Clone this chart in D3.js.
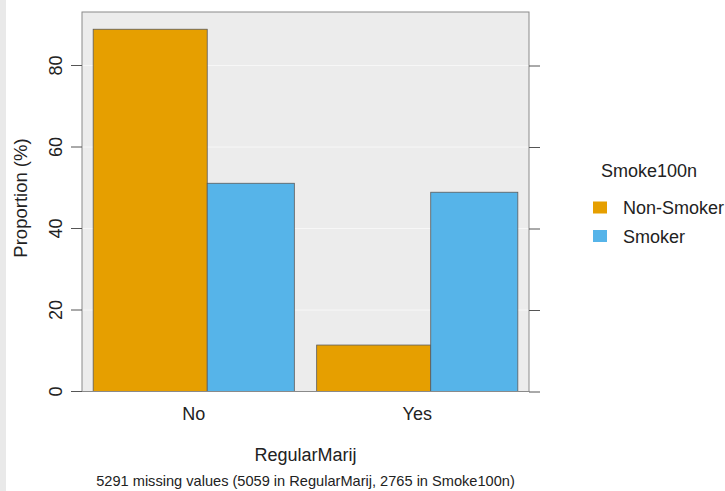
<!DOCTYPE html>
<html><head><meta charset="utf-8">
<script src="https://cdn.jsdelivr.net/npm/d3@7"></script>
<style>body{margin:0;background:#fff;}svg{display:block;font-family:"Liberation Sans",Arial,sans-serif;}</style>
</head><body>
<script>
const categories = ["No", "Yes"];
const seriesNames = ["Non-Smoker", "Smoker"];
const nonSmoker = [88.9, 11.4];
const smoker = [51.1, 48.9];
// bar widths are proportional to each Smoke100n group's share of respondents (%)
const seriesShare = [56.7, 43.3];
const yTicks = [0, 20, 40, 60, 80];
const colors = ["#E69F00", "#56B4E9"];

const W = 725, H = 491;
const svg = d3.select("body").append("svg").attr("width", W).attr("height", H);
svg.append("rect").attr("x",0).attr("y",0).attr("width",6).attr("height",H).attr("fill","#e9e9e9");

const L = 82, R = 529, T = 12, B = 391.5;
const y = d3.scaleLinear().domain([0, 80]).range([B, 65.5]);
const x0 = d3.scaleBand().domain(categories).range([L, R]).paddingInner(0.1).paddingOuter(0.05);
const x1 = d3.scaleLinear().domain([0, d3.sum(seriesShare)]).range([0, x0.bandwidth()]);
const cum = [0, seriesShare[0]];

svg.append("rect").attr("x", L).attr("y", T).attr("width", R-L).attr("height", B-T)
  .attr("fill", "#ececec");
// grid
svg.selectAll(".grid").data(yTicks.slice(1)).join("line")
  .attr("x1", L).attr("x2", R).attr("y1", d=>y(d)).attr("y2", d=>y(d))
  .attr("stroke", "#f7f7f7").attr("stroke-width", 1);

const data = categories.map((c,i)=>({cat:c, vals:[
  {k:0, v:nonSmoker[i], c:colors[0]},
  {k:1, v:smoker[i], c:colors[1]}]}));
const g = svg.selectAll(".grp").data(data).join("g").attr("transform", d=>`translate(${x0(d.cat)},0)`);
g.selectAll("rect").data(d=>d.vals).join("rect")
  .attr("x", d=>x1(cum[d.k])).attr("width", d=>x1(seriesShare[d.k]))
  .attr("y", d=>y(d.v)).attr("height", d=>B-y(d.v))
  .attr("fill", d=>d.c).attr("stroke", "#5a5a5a").attr("stroke-width", 0.8);

// panel border
svg.append("rect").attr("x", L).attr("y", T).attr("width", R-L).attr("height", B-T)
  .attr("fill", "none").attr("stroke", "#8a8a8a").attr("stroke-width", 1);

// left axis
const yl = d3.axisLeft(y).tickValues(yTicks).tickSize(11).tickPadding(8);
const gl = svg.append("g").attr("transform", `translate(${L},0)`).call(yl);
gl.select(".domain").remove();
gl.selectAll("line").attr("stroke", "#555");
gl.selectAll(".tick").each(function(d){
  const t = d3.select(this);
  t.attr("transform", null);
  t.select("line").attr("y1", y(d)).attr("y2", y(d)).attr("x2", -11);
  t.select("text").attr("x", 0).attr("y", 0).attr("dy", null)
    .attr("text-anchor", "middle").attr("font-size", 18).attr("fill", "#222")
    .attr("transform", `translate(-20,${y(d)}) rotate(-90)`);
});
// right ticks
const yr = d3.axisRight(y).tickValues(yTicks).tickSize(11).tickFormat("");
const gr = svg.append("g").attr("transform", `translate(${R},0)`).call(yr);
gr.select(".domain").remove();
gr.selectAll("line").attr("stroke", "#555");

// x labels
svg.selectAll(".xl").data(categories).join("text")
  .attr("x", d=>x0(d)+x0.bandwidth()/2).attr("y", 420)
  .attr("text-anchor","middle").attr("font-size", 18).attr("fill","#222").text(d=>d);

svg.append("text").attr("x", (L+R)/2).attr("y", 461).attr("text-anchor","middle")
  .attr("font-size", 18).attr("fill","#222").text("RegularMarij");
svg.append("text").attr("x", (L+R)/2).attr("y", 486).attr("text-anchor","middle")
  .attr("font-size", 14.6).attr("fill","#222").text("5291 missing values (5059 in RegularMarij, 2765 in Smoke100n)");
svg.append("text").attr("transform", `translate(27,198) rotate(-90)`).attr("text-anchor","middle")
  .attr("font-size", 18.5).attr("fill","#222").text("Proportion (%)");

// legend
svg.append("text").attr("x", 601).attr("y", 177).attr("font-size", 18).attr("fill","#222").text("Smoke100n");
const lg = svg.selectAll(".lg").data(seriesNames).join("g")
  .attr("transform", (d,i)=>`translate(593,${201.5 + i*28.5})`);
lg.append("rect").attr("width", 14).attr("height", 12).attr("fill", (d,i)=>colors[i]);
lg.append("text").attr("x", 30).attr("y", 12.5).attr("font-size", 18).attr("fill","#222").text(d=>d);
</script>
</body></html>
